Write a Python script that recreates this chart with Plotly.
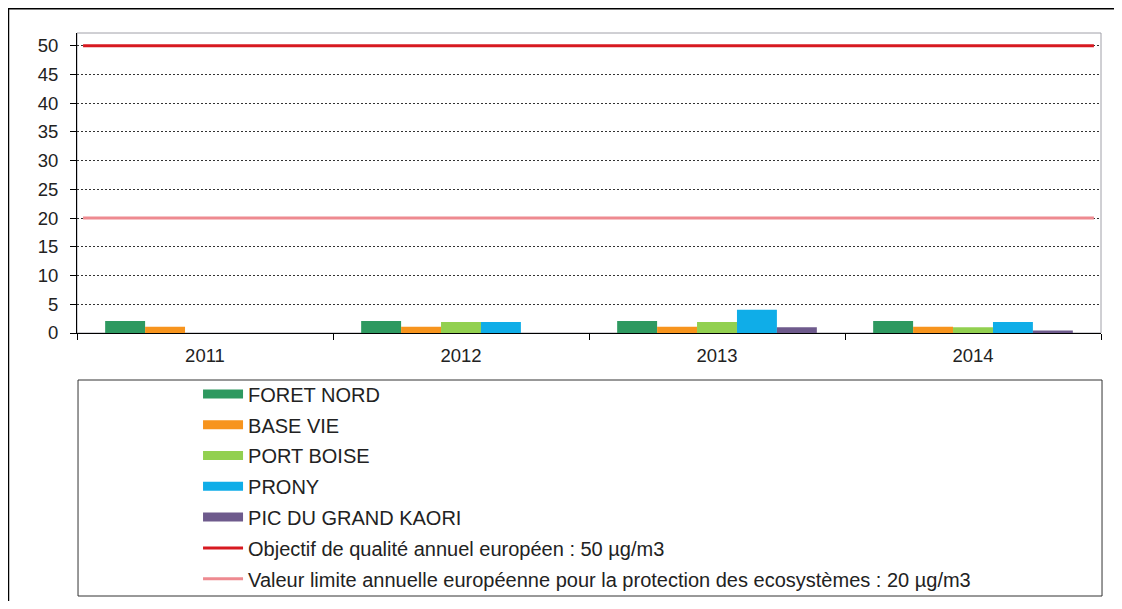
import plotly.graph_objects as go

years = ["2011", "2012", "2013", "2014"]
foret_nord = [2.1, 2.1, 2.1, 2.1]
base_vie = [1.1, 1.1, 1.1, 1.1]
port_boise = [None, 1.9, 1.9, 1.0]
prony = [None, 1.9, 4.05, 1.9]
pic_grand_kaori = [None, None, 1.0, 0.45]
objectif_qualite = 50
valeur_limite = 20

series = [
    ("FORET NORD", foret_nord, "#2E9960"),
    ("BASE VIE", base_vie, "#F7941D"),
    ("PORT BOISE", port_boise, "#92D050"),
    ("PRONY", prony, "#0FADE8"),
    ("PIC DU GRAND KAORI", pic_grand_kaori, "#6E5A8C"),
]
lines = [
    ("Objectif de qualité annuel européen : 50 µg/m3", objectif_qualite, "#D71920"),
    ("Valeur limite annuelle européenne pour la protection des ecosystèmes : 20 µg/m3", valeur_limite, "#EE8A90"),
]

FONT = "Liberation Sans, Arial, sans-serif"
fig = go.Figure()

for name, vals, col in series:
    fig.add_trace(go.Bar(x=years, y=vals, name=name, marker=dict(color=col, line=dict(width=0)),
                         showlegend=False))

for name, val, col in lines:
    fig.add_trace(go.Scatter(x=[0, 1], y=[val, val], mode="lines", xaxis="x2",
                             line=dict(color=col, width=3), showlegend=False, hoverinfo="skip"))

# legend entries
for i, (name, vals, col) in enumerate(series):
    fig.add_trace(go.Scatter(x=[None], y=[None], mode="lines", xaxis="x2", name=name,
                             legendgroup="g%d" % i, line=dict(color=col, width=9)))
for j, (name, val, col) in enumerate(lines):
    fig.add_trace(go.Scatter(x=[None], y=[None], mode="lines", xaxis="x2", name=name,
                             legendgroup="l%d" % j, line=dict(color=col, width=3)))

fig.update_layout(
    width=1106, height=593,
    margin=dict(l=69, r=13, t=25, b=268, autoexpand=False),
    paper_bgcolor="white", plot_bgcolor="white",
    barmode="group", bargap=0.22, bargroupgap=0,
    font=dict(family=FONT, size=18, color="#222"),
    xaxis=dict(type="category", showgrid=False, showline=True, linecolor="#000", linewidth=1,
               ticks="outside", tickson="boundaries", ticklen=6, tickcolor="#000",
               ticklabelstandoff=6,
               tickfont=dict(size=18.5, color="#222"), zeroline=False),
    xaxis2=dict(overlaying="x", range=[-0.006, 1.007], visible=False),
    yaxis=dict(range=[0, 52.2], tickvals=list(range(0, 51, 5)), showgrid=True,
               gridcolor="#333", griddash="2px,2px", gridwidth=1,
               showline=True, linecolor="#000", linewidth=1,
               ticks="outside", ticklen=6, tickcolor="#000", ticklabelstandoff=8,
               tickfont=dict(size=18.5, color="#222"), zeroline=False),
    legend=dict(x=0.1182, xanchor="left", y=-0.138, yanchor="top",
                font=dict(size=20, color="#222"), bgcolor="rgba(0,0,0,0)",
                borderwidth=0, traceorder="grouped", tracegroupgap=1.8, itemwidth=40),
    shapes=[
        dict(type="rect", xref="paper", yref="paper", x0=0, x1=1, y0=0, y1=1,
             line=dict(color="#A0A0A8", width=1), layer="below"),
        dict(type="rect", xref="paper", yref="paper", x0=0.001, x1=1.001, y0=-0.1567, y1=-0.8767,
             line=dict(color="#333", width=1)),
        dict(type="rect", xref="paper", yref="paper", x0=-0.0669, x1=1.05, y0=1.0808, y1=-1.2,
             line=dict(color="#000", width=1.5)),
    ],
)

fig.write_html("out.html")
